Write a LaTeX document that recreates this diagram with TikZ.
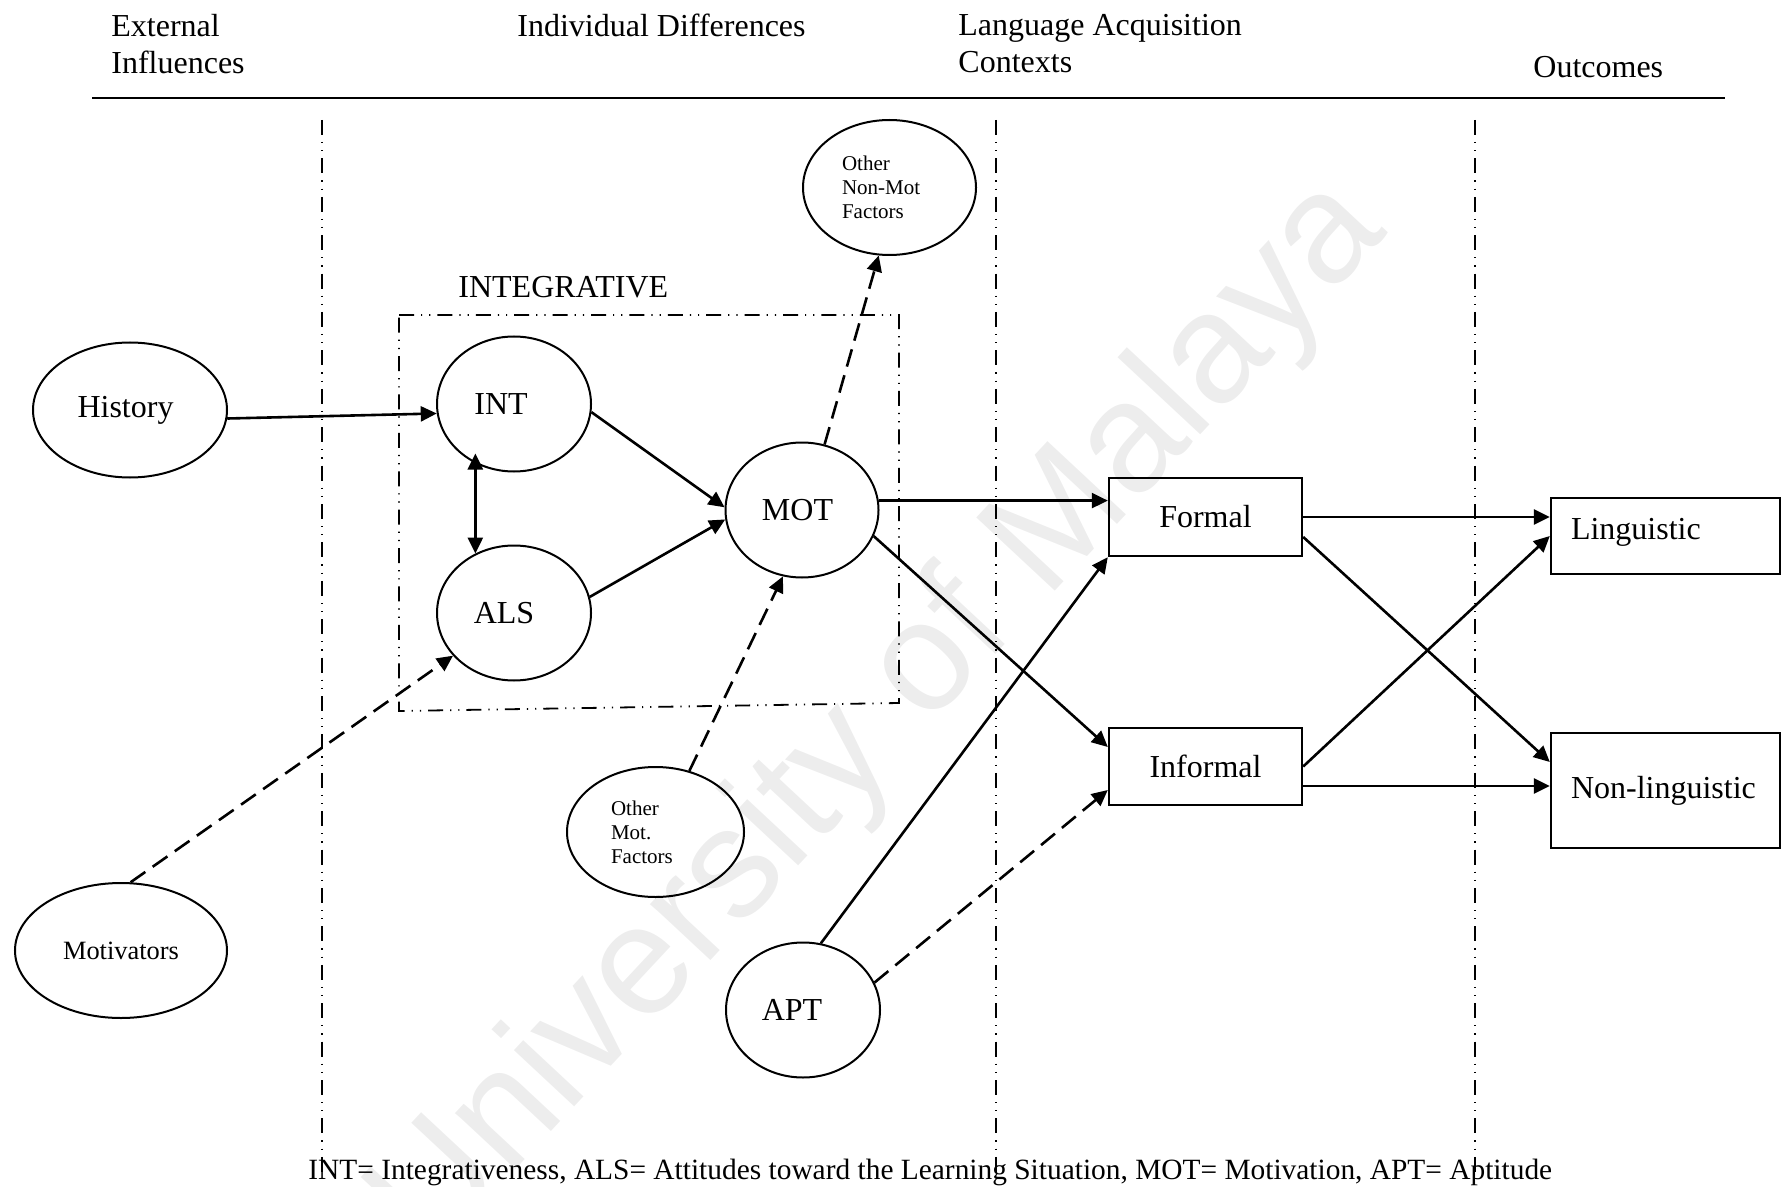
\documentclass[tikz,border=0pt]{standalone}
\usepackage{fontspec}
\setmainfont{Liberation Serif}
\newfontfamily\wmfont{Liberation Sans}
\usetikzlibrary{arrows.meta,calc,shapes.geometric}
\begin{document}
\begin{tikzpicture}[x=0.5pt,y=-0.5pt,
  font=\fontsize{16}{18.5}\selectfont,
  oval/.style={ellipse,draw,line width=1pt,inner sep=0pt},
  ctxbox/.style={rectangle,draw,line width=1.2pt,inner sep=0pt},
  tip/.tip={Triangle[length=8pt,width=7.5pt]},
  arr/.style={line width=1.3pt,-tip},
  darr/.style={arr,dash pattern=on 9pt off 4.5pt},
  divider/.style={line width=0.9pt,dash pattern=on 7.5pt off 3.5pt on 0.6pt off 3.5pt on 0.6pt off 3.5pt},
  small/.style={font=\fontsize{10.5}{12}\selectfont,align=left},
  head/.style={anchor=west,align=left,inner sep=0pt}
]
\useasboundingbox (0,0) rectangle (1782,1187);

% watermark
\node[text=black!7,font=\wmfont\fontsize{78}{78}\selectfont,rotate=47,anchor=east,inner sep=0pt] (wm) at (1360,205) {University of Malaya};

% column headings and rules
\node[head] (hdext) at (111,44) {External\\Influences};
\node[head] (hdind) at (517,25) {Individual Differences};
\node[head] (hdlac) at (958,44) {Language Acquisition\\Contexts};
\node[head] (hdout) at (1533,67) {Outcomes};
\draw[line width=1.2pt] (92,98) -- (1725,98);
\draw[divider] (322,120) -- (322,1172);
\draw[divider] (996,120) -- (996,1172);
\draw[divider] (1475,120) -- (1475,1172);

% integrative group
\node[head] (intlbl) at (458,287) {INTEGRATIVE};
\draw[divider] (399,315) -- (899,315) -- (899,703) -- (399,711) -- cycle;

% ovals
\node[oval,minimum width=97pt,minimum height=67.5pt] (hist) at (130,410) {\hspace*{-4.5pt}History};
\node[oval,minimum width=77pt,minimum height=67.5pt] (int) at (514,404) {\hspace*{-13pt}INT};
\node[oval,minimum width=77pt,minimum height=67.5pt] (als) at (514,613) {\hspace*{-10pt}ALS};
\node[oval,minimum width=76.5pt,minimum height=67.5pt] (mot) at (802,510) {\hspace*{-4.5pt}MOT};
\node[oval,minimum width=77pt,minimum height=67.5pt] (apt) at (803,1010) {\hspace*{-11pt}APT};
\node[oval,small,text width=47.5pt,minimum width=86.5pt,minimum height=67.5pt] (nonmot) at (889.5,187.5) {Other\\Non-Mot\\Factors};
\node[oval,small,text width=44.5pt,minimum width=88.5pt,minimum height=65pt] (othmot) at (655.5,832) {Other\\Mot.\\Factors};
\node[oval,font=\fontsize{13.2}{15}\selectfont,minimum width=106pt,minimum height=67.5pt] (motiv) at (121,950.5) {Motivators};

% context and outcome boxes
\node[ctxbox,minimum width=96.5pt,minimum height=39pt] (formal) at (1205.5,517) {Formal};
\node[ctxbox,minimum width=96.5pt,minimum height=38.5pt] (informal) at (1205.5,766.5) {Informal};
\node[ctxbox,inner xsep=10pt,text width=94.5pt,align=left,minimum height=38pt] (ling) at (1665.5,536) {\raisebox{7pt}{Linguistic}};
\node[ctxbox,inner xsep=10pt,text width=94.5pt,align=left,minimum height=57.5pt] (nonling) at (1665.5,790.5) {Non-linguistic};

% connectors
\draw[arr] (hist.-5) -- (int.187);
\draw[line width=1.3pt,tip-tip,shorten <=-5pt] (int.237) -- (als.123);
\draw[arr] (int.-6) -- (mot.178);
\draw[arr] (als.12) -- (mot.187);
\draw[arr] (mot.7) -- (mot.7 -| formal.west);
\draw[arr] (mot.-20) -- ($(informal.west)+(0,-19.5)$);
\draw[darr] (mot.71) -- (nonmot.261);
\draw[darr] (othmot.61) -- (mot.254);
\draw[darr] (motiv.82) -- (als.215);
\draw[arr] (apt.75) -- (formal.south west);
\draw[darr] (apt.21) -- ($(informal.west)+(0,23.5)$);
\draw[arr] (formal.east) -- (formal.east -| ling.west);
\draw[arr] ($(formal.east)+(0,20)$) -- ($(nonling.west)+(0,-28.5)$);
\draw[arr] (informal.east) -- (ling.west);
\draw[arr] ($(informal.east)+(0,19.5)$) coordinate (ie) -- (ie -| nonling.west);

% key
\node[anchor=west,inner sep=0pt,font=\fontsize{14.7}{17}\selectfont] (key) at (308,1172) {INT= Integrativeness, ALS= Attitudes toward the Learning Situation, MOT= Motivation, APT= Aptitude};
\end{tikzpicture}
\end{document}
